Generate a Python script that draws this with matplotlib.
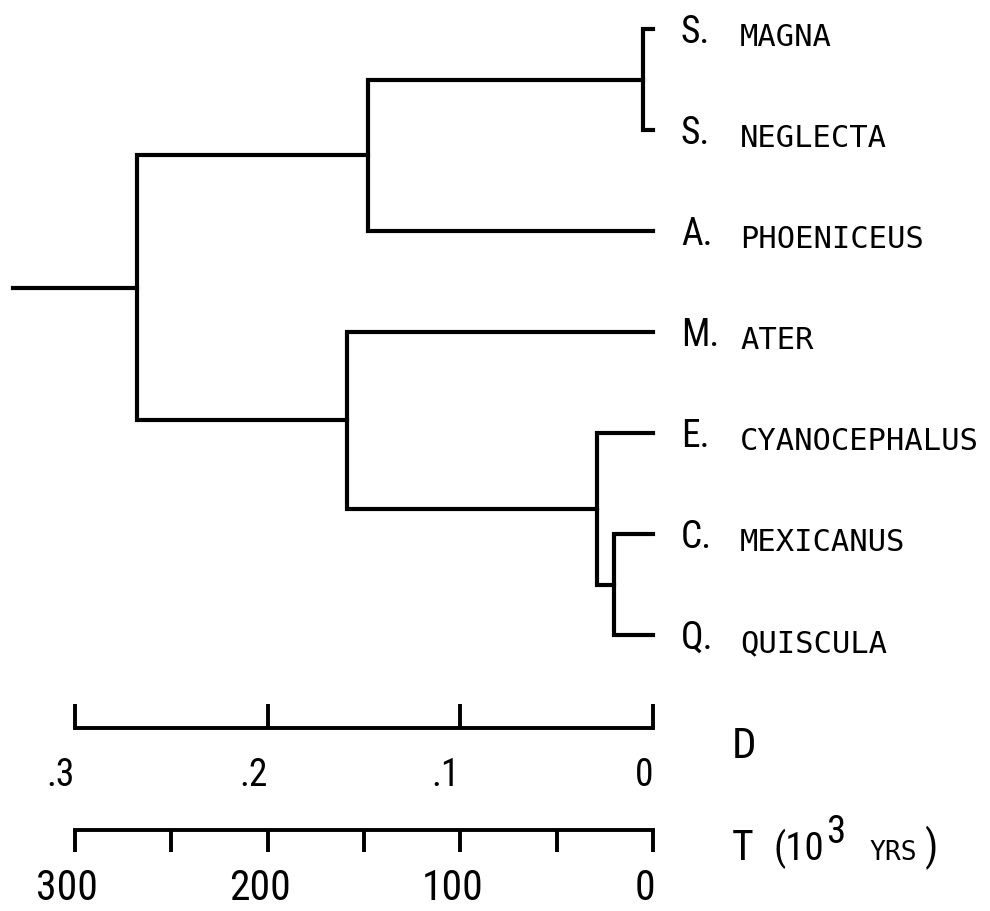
import matplotlib
matplotlib.use('Agg')
import matplotlib.pyplot as plt
from matplotlib import font_manager, transforms

# taxa (leaves, top to bottom)
genus = ['S.', 'S.', 'A.', 'M.', 'E.', 'C.', 'Q.']
species = ['MAGNA', 'NEGLECTA', 'PHOENICEUS', 'ATER', 'CYANOCEPHALUS', 'MEXICANUS', 'QUISCULA']

# joins: (child a, child b, distance D); leaves are 0..6, new nodes 7, 8, ...
merges = [
    (0, 1, 0.005),   # 7  S. magna + S. neglecta
    (5, 6, 0.020),   # 8  C. mexicanus + Q. quiscula
    (4, 8, 0.029),   # 9  E. cyanocephalus + 8
    (7, 2, 0.148),   # 10 7 + A. phoeniceus
    (3, 9, 0.159),   # 11 M. ater + 9
    (10, 11, 0.268),  # 12 root
]
root_stem = 0.332

d_ticks = [0.3, 0.2, 0.1, 0.0]
d_labels = ['.3', '.2', '.1', '0']
t_major = [300, 200, 100, 0]
t_minor = [250, 150, 50]
t_labels = ['300', '200', '100', '0']

W, H = 990, 911
fig = plt.figure(figsize=(W / 100, H / 100), dpi=100)

names = {f.name for f in font_manager.fontManager.ttflist}
narrow = next((n for n in ['Liberation Sans Narrow', 'Roboto Condensed'] if n in names), 'DejaVu Sans')
nkw = dict(family=narrow, stretch='condensed')
mono = 'DejaVu Sans Mono'


def px_box(x0, y0, x1, y1):
    # picture pixels (origin top left) -> figure fraction
    return [x0 / W, 1 - y1 / H, (x1 - x0) / W, (y1 - y0) / H]


ax = fig.add_axes(px_box(75, 29, 653, 635))
ax.set_xlim(0.3, 0)
ax.set_ylim(len(genus) - 1, 0)
ax.axis('off')

n = len(genus)
pos = {i: (0.0, float(i)) for i in range(n)}
for k, (a, b, h) in enumerate(merges):
    ha, ya = pos[a]
    hb, yb = pos[b]
    ax.plot([ha, h, h, hb], [ya, ya, yb, yb], color='black', lw=3,
            clip_on=False, solid_joinstyle='miter')
    pos[n + k] = (h, (ya + yb) / 2)
h, y = pos[n + len(merges) - 1]
ax.plot([root_stem, h], [y, y], color='black', lw=3, clip_on=False)

genus_tr = transforms.offset_copy(ax.transData, fig=fig, x=28, y=-14, units='dots')
species_tr = transforms.offset_copy(ax.transData, fig=fig, x=87, y=-17, units='dots')
for i in range(n):
    ax.text(0, i, genus[i], transform=genus_tr, fontsize=27, va='baseline', **nkw)
    ax.text(0, i, species[i], transform=species_tr, fontsize=22, family=mono, va='baseline')

# D scale
axd = fig.add_axes(px_box(75, 728, 653, 728))
axd.set_xlim(0.3, 0)
axd.set_xticks(d_ticks)
axd.set_xticklabels(d_labels, fontsize=27, ha='right', **nkw)
axd.set_yticks([])
axd.tick_params(axis='x', direction='in', length=17, width=2.8, pad=21)
for s in ['top', 'left', 'right']:
    axd.spines[s].set_visible(False)
axd.spines['bottom'].set_linewidth(2.8)
axd.patch.set_visible(False)

# T scale
axt = fig.add_axes(px_box(75, 830, 653, 830))
axt.set_xlim(300, 0)
axt.set_xticks(t_major)
axt.set_xticks(t_minor, minor=True)
axt.set_xticklabels(t_labels, fontsize=30, **nkw)
axt.set_yticks([])
axt.tick_params(axis='x', which='both', direction='out', length=16, width=2.8, pad=11)
for s in ['top', 'left', 'right']:
    axt.spines[s].set_visible(False)
axt.spines['bottom'].set_linewidth(2.8)
axt.patch.set_visible(False)
shift = transforms.ScaledTranslation(-8 / 100, 0, fig.dpi_scale_trans)
for lab in axt.get_xticklabels():
    lab.set_transform(lab.get_transform() + shift)

fig.text(732 / W, 1 - 758 / H, 'D', fontsize=31, va='baseline', **nkw)

r = fig.canvas.get_renderer()
x = 732
parts = [('T', nkw, 30, 0, 20), ('(10', nkw, 28, 0, 2), ('3', nkw, 28, 17, 24),
         ('YRS', dict(family=mono), 19, 0, 8), (')', nkw, 30, 0, 0)]
for s, kw, size, rise, gap in parts:
    t = fig.text(x / W, 1 - (860 - rise) / H, s, fontsize=size, va='baseline', **kw)
    x = t.get_window_extent(r).x1 + gap

fig.savefig('out.png', dpi=100, facecolor='white')
